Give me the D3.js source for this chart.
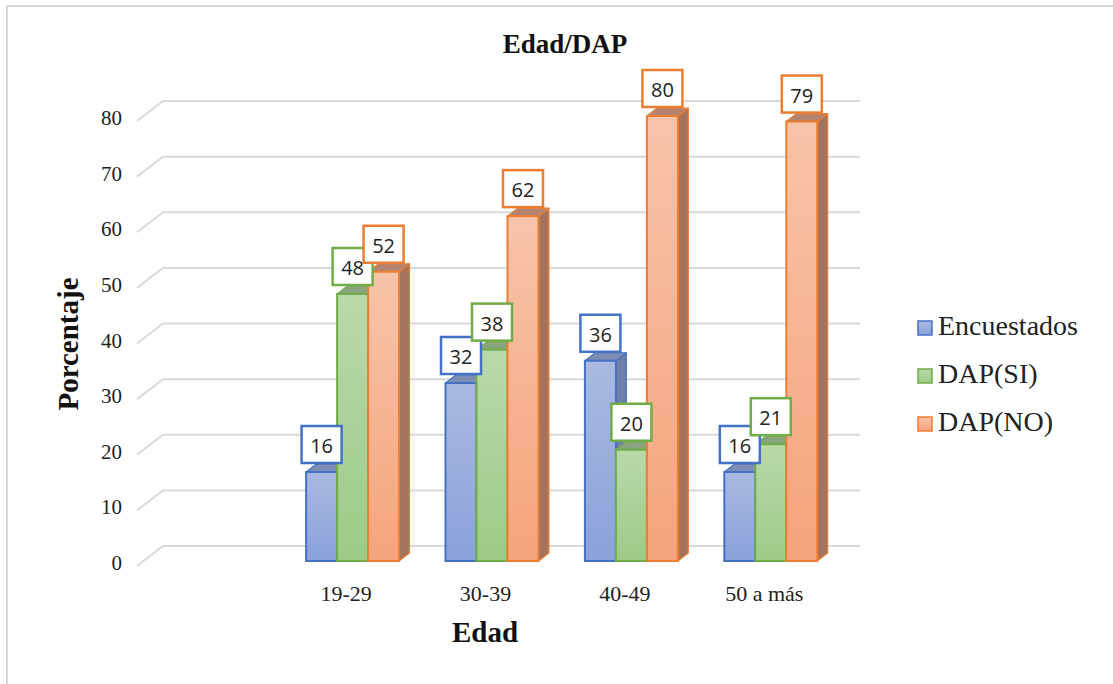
<!DOCTYPE html>
<html>
<head>
<meta charset="utf-8">
<script src="https://cdn.jsdelivr.net/npm/d3@7"></script>
<style>
  html, body { margin: 0; padding: 0; background: #fff; }
  svg { display: block; }
</style>
</head>
<body>
<svg id="chart" width="1113" height="684"></svg>
<script>
// ---- data ----
const categories = ["19-29", "30-39", "40-49", "50 a más"];
const seriesNames = ["Encuestados", "DAP(SI)", "DAP(NO)"];
const encuestados = [16, 32, 36, 16];
const dapSi = [48, 38, 20, 21];
const dapNo = [52, 62, 80, 79];
const yTicks = [0, 10, 20, 30, 40, 50, 60, 70, 80];
const chartTitle = "Edad/DAP";
const xTitle = "Edad";
const yTitle = "Porcentaje";

const seriesValues = [encuestados, dapSi, dapNo];
const styles = [
  { stroke: "#4472c4", top: "#aab9e1", bot: "#8aa2da", cap: "#7d8db4", side: "#6f80a8" },
  { stroke: "#70ad47", top: "#b9d9ab", bot: "#9dcb87", cap: "#8aa47e", side: "#7c9a6e" },
  { stroke: "#ed7d31", top: "#f8c4aa", bot: "#f5a47c", cap: "#b38470", side: "#a3735e" }
];

const svg = d3.select("#chart");
const defs = svg.append("defs");
styles.forEach((s, i) => {
  const g = defs.append("linearGradient").attr("id", "grad" + i)
    .attr("x1", 0).attr("y1", 0).attr("x2", 0).attr("y2", 1);
  g.append("stop").attr("offset", "0%").attr("stop-color", s.top);
  g.append("stop").attr("offset", "100%").attr("stop-color", s.bot);
});

// frame
svg.append("path").attr("d", "M7,684 L7,6 L1113,6")
  .attr("fill", "none").attr("stroke", "#d9d9d9").attr("stroke-width", 2);

// ---- scales ----
const x0 = d3.scaleBand().domain(["", ...categories]).range([137, 834]);
const yFront = d3.scaleLinear().domain([0, 80]).range([566, 121]);
const depth = { dx: 26, dy: -20 };        // full floor depth
const barPlane = 0.25;                      // bars sit at this depth fraction
const barDepth = 0.4;                       // bar thickness as depth fraction
const groupW = 93;
const x1 = d3.scaleBand().domain(seriesNames).range([0, groupW]);

// ---- gridlines ----
const grid = svg.append("g");
yTicks.forEach(t => {
  const fy = yFront(t);
  grid.append("path")
    .attr("d", `M137,${fy} L${137 + depth.dx},${fy + depth.dy} L${834 + depth.dx},${fy + depth.dy}`)
    .attr("fill", "none").attr("stroke", "#d9d9d9").attr("stroke-width", 2);
});

// tick labels
svg.append("g").selectAll("text").data(yTicks).join("text")
  .attr("x", 122).attr("y", d => yFront(d) - 3)
  .attr("text-anchor", "end").attr("dominant-baseline", "central")
  .attr("font-family", "Liberation Serif, Times New Roman, serif")
  .attr("font-size", 21).attr("fill", "#222")
  .text(d => d);

// category labels
svg.append("g").selectAll("text").data(categories).join("text")
  .attr("x", d => x0(d) + x0.bandwidth() / 2)
  .attr("y", 601)
  .attr("text-anchor", "middle")
  .attr("font-family", "Liberation Serif, Times New Roman, serif")
  .attr("font-size", 22).attr("fill", "#222")
  .text(d => d);

// ---- bars ----
const pdx = depth.dx * barPlane, pdy = depth.dy * barPlane;
const bdx = depth.dx * barDepth, bdy = depth.dy * barDepth;
const bars = svg.append("g");
const labelsData = [];
categories.forEach((c, ci) => {
  const gx = x0(c) + x0.bandwidth() / 2 + pdx - groupW / 2;
  seriesNames.forEach((s, si) => {
    const v = seriesValues[si][ci];
    const st = styles[si];
    const xl = gx + x1(s), xr = xl + x1.bandwidth();
    const yb = yFront(0) + pdy, yt = yFront(v) + pdy;
    // side face
    bars.append("path")
      .attr("d", `M${xr},${yb} L${xr + bdx},${yb + bdy} L${xr + bdx},${yt + bdy} L${xr},${yt} Z`)
      .attr("fill", st.side).attr("stroke", st.stroke).attr("stroke-width", 1.2).attr("stroke-linejoin", "round");
    // top face
    bars.append("path")
      .attr("d", `M${xl},${yt} L${xl + bdx},${yt + bdy} L${xr + bdx},${yt + bdy} L${xr},${yt} Z`)
      .attr("fill", st.cap).attr("stroke", st.stroke).attr("stroke-width", 1.2).attr("stroke-linejoin", "round");
    // front face
    bars.append("rect")
      .attr("x", xl).attr("y", yt).attr("width", xr - xl).attr("height", yb - yt)
      .attr("fill", `url(#grad${si})`).attr("stroke", st.stroke).attr("stroke-width", 2);
    labelsData.push({ x: (xl + xr) / 2, y: yt, v, st });
  });
});

// ---- data labels ----
const lbl = svg.append("g");
labelsData.forEach(d => {
  const w = 40, h = 37;
  const by = d.y - 9 - h;
  lbl.append("rect").attr("x", d.x - w / 2).attr("y", by).attr("width", w).attr("height", h)
    .attr("fill", "#fff").attr("stroke", d.st.stroke).attr("stroke-width", 2.5);
  lbl.append("text").attr("x", d.x).attr("y", by + h / 2 + 1)
    .attr("text-anchor", "middle").attr("dominant-baseline", "central")
    .attr("font-family", "Open Sans, Liberation Sans, sans-serif")
    .attr("font-size", 20).attr("fill", "#222")
    .text(d.v);
});

// ---- titles ----
svg.append("text").attr("x", 565).attr("y", 53)
  .attr("text-anchor", "middle")
  .attr("font-family", "Liberation Serif, Times New Roman, serif")
  .attr("font-weight", "bold").attr("font-size", 27).attr("fill", "#111")
  .text(chartTitle);
svg.append("text").attr("x", 485).attr("y", 642)
  .attr("text-anchor", "middle")
  .attr("font-family", "Liberation Serif, Times New Roman, serif")
  .attr("font-weight", "bold").attr("font-size", 29).attr("fill", "#111")
  .text(xTitle);
svg.append("text").attr("transform", "translate(78,344) rotate(-90)")
  .attr("text-anchor", "middle")
  .attr("font-family", "Liberation Serif, Times New Roman, serif")
  .attr("font-weight", "bold").attr("font-size", 29).attr("fill", "#111")
  .text(yTitle);

// ---- legend ----
const legend = svg.append("g");
seriesNames.forEach((s, i) => {
  const base = 335 + i * 48;
  legend.append("rect").attr("x", 918).attr("y", base - 14).attr("width", 14).attr("height", 14)
    .attr("fill", `url(#grad${i})`).attr("stroke", styles[i].stroke).attr("stroke-width", 1.5);
  legend.append("text").attr("x", 938).attr("y", base)
    .attr("font-family", "Liberation Serif, Times New Roman, serif")
    .attr("font-size", 28).attr("fill", "#222")
    .text(s);
});
</script>
</body>
</html>
